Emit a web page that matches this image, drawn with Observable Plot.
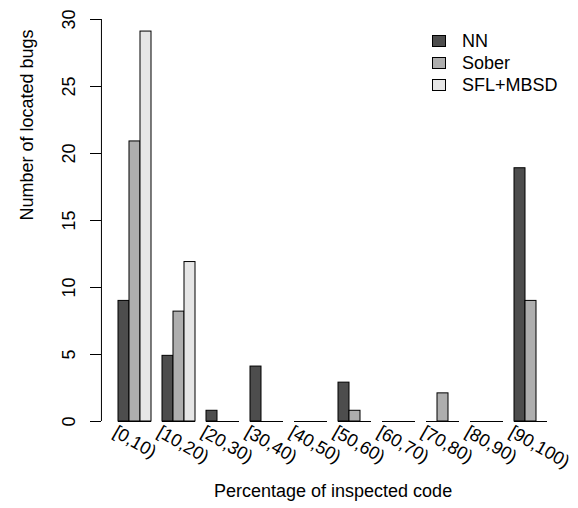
<!DOCTYPE html>
<html><head><meta charset="utf-8">
<script src="https://cdn.jsdelivr.net/npm/d3@7"></script>
<script src="https://cdn.jsdelivr.net/npm/@observablehq/plot@0.6"></script>
<style>
body{margin:0;background:#fff;font-family:"Liberation Sans",Arial,sans-serif;}
#wrap{position:relative;width:578px;height:508px;}
.legend{position:absolute;left:432px;top:30px;font-size:18px;color:#000;}
.row{display:flex;align-items:center;height:22.2px;}
.sw{width:14px;height:12px;box-sizing:border-box;border:1px solid #000;margin-right:16px;}
</style></head><body><div id="wrap"></div>
<script>
const categories = ["[0,10)","[10,20)","[20,30)","[30,40)","[40,50)","[50,60)","[60,70)","[70,80)","[80,90)","[90,100)"];
const series = ["NN","Sober","SFL+MBSD"];
const nn    = [9, 4.9, 0.8, 4.1, 0, 2.9, 0, 0, 0, 18.9];
const sober = [20.9, 8.2, 0, 0, 0, 0.8, 0, 2.1, 0, 9];
const sfl   = [29.1, 11.9, 0, 0, 0, 0, 0, 0, 0, 0];
const colors = ["#4D4D4D","#AEAEAE","#E6E6E6"];
const yTicks = [0,5,10,15,20,25,30];
const yLabel = "Number of located bugs";
const xLabel = "Percentage of inspected code";

const rows = categories.flatMap((c,i)=>[
  {cat:c, series:series[0], value:nn[i]},
  {cat:c, series:series[1], value:sober[i]},
  {cat:c, series:series[2], value:sfl[i]}
]);

const font = "Liberation Sans, Arial, sans-serif";
const plot = Plot.plot({
  width:578, height:508,
  marginTop:19, marginBottom:87, marginLeft:116, marginRight:28.7,
  style:{fontFamily:font, fontSize:"18px", background:"#fff", color:"#000"},
  fx:{domain:categories, paddingInner:0.25, paddingOuter:0, axis:null, label:null},
  x:{domain:series, padding:0, axis:null},
  y:{domain:[0,30]},
  color:{domain:series, range:colors},
  marks:[
    Plot.ruleY([0], {stroke:"#000", strokeWidth:1}),
    Plot.barY(rows.filter(d=>d.value>0), {fx:"cat", x:"series", y:"value", fill:"series", stroke:"#000", strokeWidth:1}),
    Plot.axisY(yTicks, {tickSize:11, dx:-17, tickRotate:-90, tickPadding:16, fontSize:18, label:null, stroke:"#000"}),
    Plot.ruleX([categories[0]], {fx:d=>d, x:()=>series[0], y1:0, y2:30, dx:-22.55, stroke:"#000"}),
    Plot.text(categories, {fx:d=>d, text:d=>d, frameAnchor:"bottom", textAnchor:"start", rotate:30, dx:-23, dy:14, fontSize:18}),
    Plot.text([yLabel], {fx:()=>categories[0], text:d=>d, frameAnchor:"left", rotate:-90, dx:-91, fontSize:18}),
    Plot.text([xLabel], {fx:()=>categories[4], text:d=>d, frameAnchor:"bottom-right", textAnchor:"middle", dx:5.55, dy:75, fontSize:18})
  ]
});
const wrap = document.getElementById("wrap");
wrap.appendChild(plot);
const legend = document.createElement("div");
legend.className = "legend";
series.forEach((s,i)=>{
  const row = document.createElement("div"); row.className="row";
  const sw = document.createElement("div"); sw.className="sw"; sw.style.background = colors[i];
  const t = document.createElement("span"); t.textContent = s;
  row.appendChild(sw); row.appendChild(t); legend.appendChild(row);
});
wrap.appendChild(legend);
</script></body></html>
